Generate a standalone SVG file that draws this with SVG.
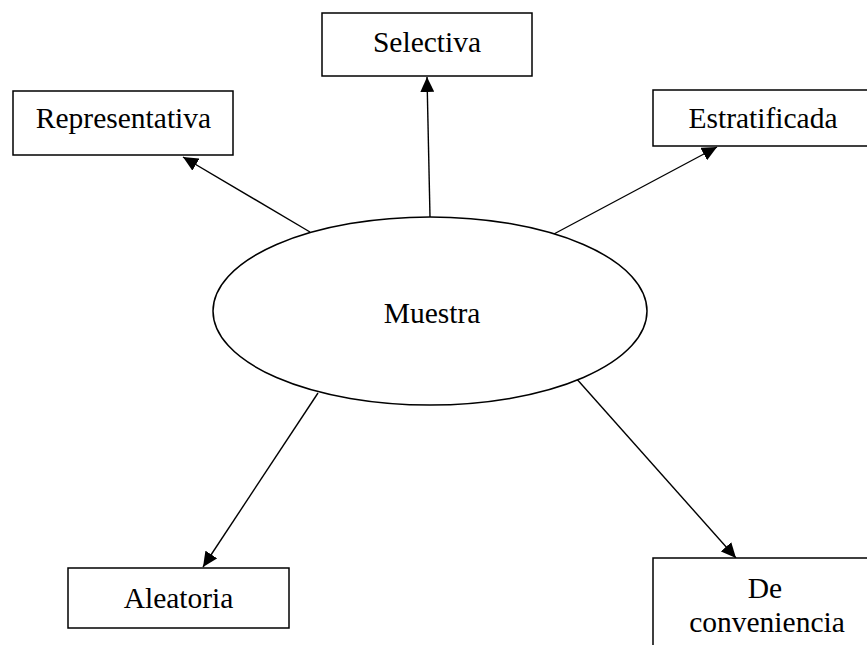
<svg xmlns="http://www.w3.org/2000/svg" width="867" height="645" viewBox="0 0 867 645">
<style>
.box{fill:#fff;stroke:#000;stroke-width:1.5}
.lbl{font-family:"Liberation Serif","Times New Roman",serif;font-size:29.5px;fill:#000;text-anchor:middle}
.con{stroke:#000;stroke-width:1.4;fill:none;marker-end:url(#ah)}
</style>
<defs>
<marker id="ah" markerUnits="userSpaceOnUse" markerWidth="16" markerHeight="14" refX="15" refY="7" orient="auto">
<path d="M0,0 L15,7 L0,14 Z" fill="#000"/>
</marker>
</defs>
<rect width="867" height="645" fill="#fff"/>
<g id="connectors">
<line class="con" x1="310" y1="232" x2="183" y2="157"/>
<line class="con" x1="430" y1="217" x2="427" y2="77"/>
<line class="con" x1="552" y1="235" x2="717" y2="147"/>
<line class="con" x1="318" y1="393" x2="203" y2="567"/>
<line class="con" x1="575" y1="377" x2="736" y2="558"/>
</g>
<g id="muestra">
<ellipse class="box" cx="430" cy="311" rx="217" ry="94"/>
<text class="lbl" x="432" y="323">Muestra</text>
</g>
<g id="representativa">
<rect class="box" x="13" y="91" width="220" height="64"/>
<text class="lbl" x="123.5" y="128">Representativa</text>
</g>
<g id="selectiva">
<rect class="box" x="322" y="13" width="210" height="63"/>
<text class="lbl" x="427" y="52">Selectiva</text>
</g>
<g id="estratificada">
<rect class="box" x="653" y="90" width="220" height="56"/>
<text class="lbl" x="763" y="128">Estratificada</text>
</g>
<g id="aleatoria">
<rect class="box" x="68" y="568" width="221" height="60"/>
<text class="lbl" x="178.5" y="608">Aleatoria</text>
</g>
<g id="conveniencia">
<rect class="box" x="653" y="558" width="224" height="100"/>
<text class="lbl" x="765" y="598">De</text>
<text class="lbl" x="767" y="632">conveniencia</text>
</g>
</svg>
